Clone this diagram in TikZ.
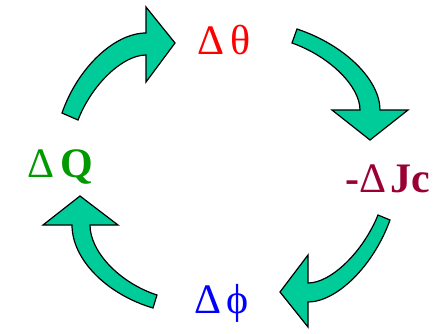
\documentclass[tikz,border=0pt]{standalone}
\usepackage{fontspec}
\setmainfont{Liberation Serif}
\definecolor{cyclegreen}{HTML}{00CC99}
\definecolor{qgreen}{HTML}{009900}
\definecolor{jcmaroon}{HTML}{990033}
\begin{document}
\begin{tikzpicture}[
  x=1pt, y=-1pt,
  lbl/.style={anchor=base west, inner sep=0pt, font=\fontsize{42}{46}\selectfont},
  bigarrow/.style={draw=black, line width=1.2pt, fill=cyclegreen, line join=miter},
]
\useasboundingbox (0,0) rectangle (434,333);
% --- LABELS ---
\node[lbl, text=red] (dtheta) at (197,54) {Δ\hspace{6pt}θ};
\node[lbl, text=jcmaroon] (djc) at (345,192) {\textbf{-}Δ\hspace{4pt}\textbf{Jc}};
\node[lbl, text=blue] (dphi) at (194,313) {Δ\hspace{5pt}ϕ};
\node[lbl, text=qgreen] (dq) at (27,177) {Δ\hspace{6pt}\textbf{Q}};
% --- ARROWS (Q -> theta -> Jc -> phi -> Q) ---
\draw[bigarrow] (62,113) .. controls (78,67) and (115,33) .. (146,33)
  -- (146,7) -- (175,43) -- (146,82) -- (146,55)
  .. controls (123,55) and (92,84) .. (78,120) -- cycle;
\draw[bigarrow] (297,29) .. controls (345,45) and (380,80) .. (380,110)
  -- (408,110) -- (370,140) -- (332,110) -- (360,110)
  .. controls (360,86) and (329,56) .. (292,43) -- cycle;
\draw[bigarrow] (390,220) .. controls (373,267) and (336,302) .. (308,302)
  -- (308,327) -- (280,292) -- (308,255) -- (308,283)
  .. controls (331,283) and (363,252) .. (378,215) -- cycle;
\draw[bigarrow] (153,308) .. controls (106,294) and (72,259) .. (72,225)
  -- (43,225) -- (80,196) -- (118,225) -- (90,225)
  .. controls (90,252) and (120,283) .. (157,295) -- cycle;
\end{tikzpicture}
\end{document}
